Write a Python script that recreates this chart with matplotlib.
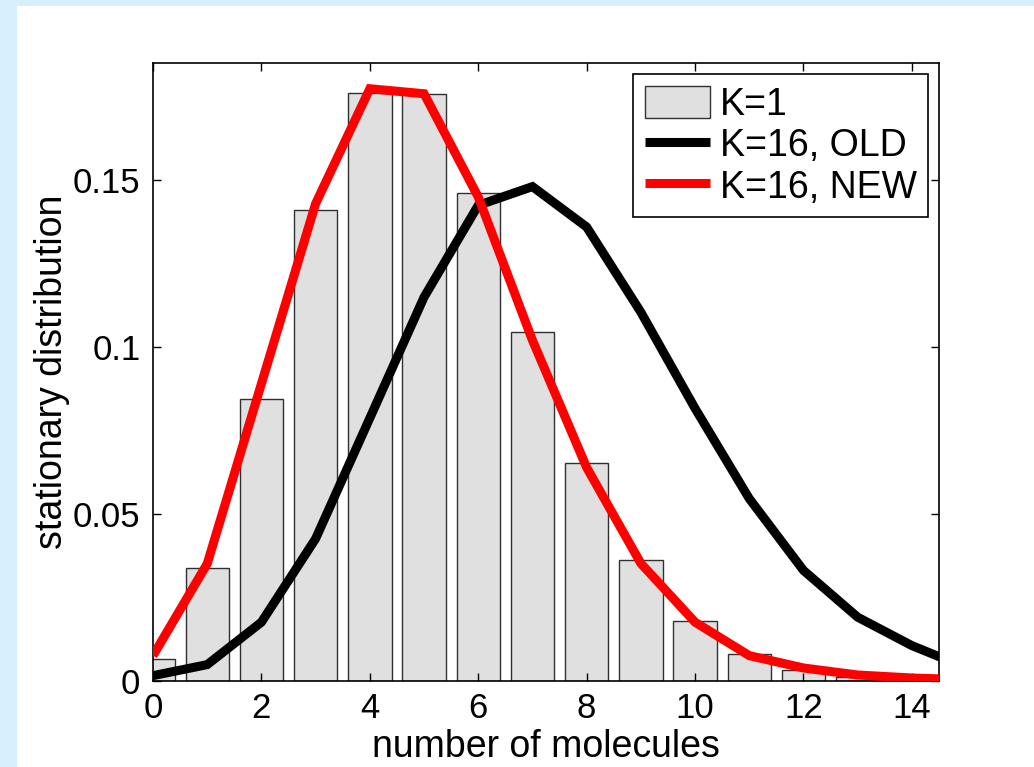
import matplotlib
matplotlib.use("Agg")
import matplotlib.pyplot as plt
from matplotlib.patches import Rectangle
import numpy as np

plt.rcParams['font.family'] = ['Liberation Sans', 'DejaVu Sans']

# molecule counts and stationary distributions
molecules = [0, 1, 2, 3, 4, 5, 6, 7, 8, 9, 10, 11, 12, 13, 14]
k1_dist = [0.0066, 0.0338, 0.0845, 0.1409, 0.1760, 0.1756, 0.1460, 0.1044,
           0.0652, 0.0363, 0.0181, 0.0082, 0.0034, 0.0013, 0.0005]

line_x = [0, 1, 2, 3, 4, 5, 6, 7, 8, 9, 10, 11, 12, 13, 14, 15]
k16_old = [0.0016, 0.0049, 0.0176, 0.0426, 0.0787, 0.1149, 0.1424, 0.1480,
           0.1359, 0.1104, 0.0816, 0.0546, 0.0331, 0.0191, 0.0106, 0.0040]
k16_new = [0.0076, 0.0351, 0.0890, 0.1429, 0.1773, 0.1758, 0.1449, 0.1020,
           0.0639, 0.0352, 0.0176, 0.0076, 0.0039, 0.0018, 0.0009, 0.0004]

x_ticks = [0, 2, 4, 6, 8, 10, 12, 14]
y_ticks = [0, 0.05, 0.1, 0.15]
y_tick_labels = ['0', '0.05', '0.1', '0.15']

W, H = 1034, 767
fig = plt.figure(figsize=(W / 100, H / 100), dpi=100, facecolor='#d8effd')
# white page area inside the light-blue margin
fig.patches.append(Rectangle((17 / W, 0), 1 - 17 / W, 1 - 6 / H,
                             transform=fig.transFigure, facecolor='white',
                             edgecolor='none', zorder=-10))

ax = fig.add_axes([153 / W, (H - 681) / H, (939 - 153) / W, (681 - 63) / H])
bars = ax.bar(molecules, k1_dist, width=0.8, color='#e0e0e0',
              edgecolor='#303030', linewidth=1.0, label='K=1', zorder=1)
l_old, = ax.plot(line_x, k16_old, color='black', linewidth=6.5,
                 label='K=16, OLD', solid_joinstyle='miter',
                 solid_capstyle='butt', zorder=2)
l_new, = ax.plot(line_x, k16_new, color='#ff0000', linewidth=6.5,
                 label='K=16, NEW', solid_joinstyle='miter',
                 solid_capstyle='butt', zorder=3)

ax.set_xlim(0, 14.5)
ax.set_ylim(0, 0.185)
ax.set_xticks(x_ticks)
ax.set_yticks(y_ticks)
ax.set_yticklabels(y_tick_labels)
ax.tick_params(direction='in', length=6, width=1, top=True, right=True,
               labelsize=25, colors='black')
ax.tick_params(axis='x', pad=8)
ax.tick_params(axis='y', pad=9)
for s in ax.spines.values():
    s.set_linewidth(1.2)

ax.set_xlabel('number of molecules', fontsize=27, labelpad=3)
ax.set_ylabel('stationary distribution', fontsize=27, labelpad=2)

leg = ax.legend([bars, l_old, l_new], ['K=1', 'K=16, OLD', 'K=16, NEW'],
                loc='upper right', fontsize=27, frameon=True, fancybox=False,
                framealpha=1, edgecolor='black', borderaxespad=0.3,
                handlelength=1.75, handleheight=0.95, handletextpad=0.25,
                labelspacing=0.12, borderpad=0.3)
leg.get_frame().set_linewidth(1.2)

fig.savefig('out.png', dpi=100, facecolor=fig.get_facecolor())
